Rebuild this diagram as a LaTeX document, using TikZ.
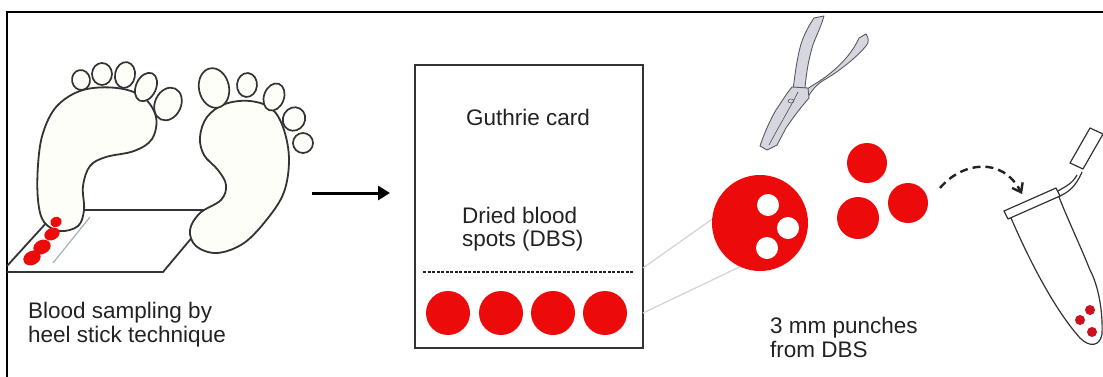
\documentclass[tikz,border=0pt]{standalone}
\usepackage{fontspec}
\setmainfont{Liberation Sans}
\usetikzlibrary{arrows.meta}
\definecolor{ink}{HTML}{222222}
\definecolor{outline}{HTML}{333333}
\definecolor{blood}{HTML}{EC0A0A}
\definecolor{darkblood}{HTML}{CC1020}
\definecolor{footfill}{HTML}{FEFEF9}
\definecolor{steel}{HTML}{D6D7DE}
\definecolor{steeldark}{HTML}{5A5A66}
\definecolor{guide}{HTML}{D2D2D2}
\definecolor{lancet}{HTML}{9DB3BD}
\begin{document}
\begin{tikzpicture}[x=1pt,y=-1pt,
  lbl/.style={font=\fontsize{22.5}{24}\selectfont, text=ink, inner sep=0pt},
  footline/.style={draw=outline, line width=1.8pt, fill=footfill},
  toe/.style={draw=outline, line width=1.7pt, fill=footfill},
  spot/.style={circle, fill=blood, inner sep=0pt, minimum size=#1},
  hole/.style={circle, fill=white, inner sep=0pt, minimum size=22pt},
  tubeline/.style={draw=outline, line width=1.2pt, line join=round},
  guideline/.style={draw=guide, line width=1.2pt},
  steelpart/.style={fill=steel, draw=steeldark, line width=0.9pt, line join=round}]
\useasboundingbox (0,0) rectangle (1103,376);

% frame
\draw[line width=2.2pt, line cap=rect] (7,376) -- (7,12) -- (1103,12);

% ---------- heel stick ----------
% platform
\draw[outline, line width=1.8pt, line join=round]
  (7,272) -- (163,272) -- (215,210) -- (58,210) -- (7,266);
% lancet line
\draw[lancet, line width=1.2pt] (90,217) -- (53,263);

% left foot
\path[footline] plot[smooth cycle, tension=0.6] coordinates
  {(83,90) (117,88) (143,97) (156,117) (152,139) (134,151) (106,157)
   (90,166) (83,186) (84,210) (78,226) (60,231) (44,222) (38,200)
   (38,165) (43,133) (57,106)};
\foreach \cx/\cy/\rx/\ry/\ang in {81/80/9/10/10, 102/74/10/11/0, 125/75/10/13/-10,
    146/87/10/15/-25, 168/104/13/17/-25}
  \path[toe, rotate around={\ang:(\cx,\cy)}]
    (\cx,\cy) ellipse [x radius=\rx, y radius=\ry];

% right foot
\path[footline] plot[smooth cycle, tension=0.6] coordinates
  {(250,101) (272,109) (284,130) (289,160) (284,192) (268,218) (244,243)
   (217,253) (196,246) (190,230) (200,213) (221,200) (226,185) (218,170)
   (204,155) (200,137) (207,117) (225,104)};
\foreach \cx/\cy/\rx/\ry/\ang in {214/88/15/20/12, 247/85/10/12/-5, 274/97/10/14/-20,
    294/119/11/12/-30, 303/143/10/10/0}
  \path[toe, rotate around={\ang:(\cx,\cy)}]
    (\cx,\cy) ellipse [x radius=\rx, y radius=\ry];

% blood drops on the heel
\foreach \cx/\cy/\rx/\ry in {56/222/6/5, 52/234/8/6, 42/247/9/7, 32/258/9/7}
  \fill[blood, rotate around={25:(\cx,\cy)}] (\cx,\cy) ellipse [x radius=\rx, y radius=\ry];

\node[lbl, anchor=base west] (heelA) at (28,318) {Blood sampling by};
\node[lbl, anchor=base west] (heelB) at (28,342) {heel stick technique};

% arrow to card
\coordinate (arrS) at (312,193);
\coordinate (arrE) at (390,193);
\draw[line width=3pt, -{Triangle[length=12pt,width=14pt]}] (arrS) -- (arrE);

% ---------- Guthrie card ----------
\draw[outline, line width=2.2pt] (415,65) rectangle (643,348);
\node[lbl, anchor=base] (cardtitle) at (528,125) {Guthrie card};
\node[lbl, anchor=base west] (dbsA) at (462,223) {Dried blood};
\node[lbl, anchor=base west] (dbsB) at (462,246) {spots (DBS)};
\draw[ink, line width=1.6pt, dash pattern=on 3pt off 1.5pt] (423,272) -- (633,272);
\foreach \i/\x in {1/448, 2/501, 3/553, 4/605}
  \node[spot=44pt] (s\i) at (\x,313) {};

% guide lines to the enlarged spot
\coordinate (gA) at (643,268);
\coordinate (gB) at (643,313);
\coordinate (bA) at (725,210);
\coordinate (bB) at (750,262);
\draw[guideline] (gA) -- (bA);
\draw[guideline] (gB) -- (bB);

% enlarged spot with punched holes
\node[spot=96pt] (big) at (760,223) {};
\node[hole] (h1) at (768,205) {};
\node[hole] (h2) at (788,228) {};
\node[hole] (h3) at (767,248) {};

% punches
\node[spot=40pt] (p1) at (867,163) {};
\node[spot=42pt] (p2) at (858,218) {};
\node[spot=40pt] (p3) at (908,203) {};

\node[lbl, anchor=base west] (punchA) at (770,333) {3 mm punches};
\node[lbl, anchor=base west] (punchB) at (770,357) {from DBS};

% ---------- hole punch pliers ----------
% upper handle
\path[steelpart] (814,18) -- (824,16) .. controls (820,30) and (814,40) .. (812,48)
  .. controls (808,62) and (806,76) .. (805,88) -- (793,90)
  .. controls (795,74) and (797,58) .. (801,44) .. controls (805,32) and (810,24) .. (814,18) -- cycle;
% lower handle
\path[steelpart] (859,38) -- (866,34) .. controls (869,38) and (869,43) .. (866,46)
  .. controls (856,58) and (838,72) .. (824,80) .. controls (816,85) and (812,90) .. (808,97)
  -- (800,96) .. controls (806,88) and (816,84) .. (824,78)
  .. controls (838,68) and (852,54) .. (859,38) -- cycle;
% jaw and punch head
\path[steelpart] (792,87) -- (808,88) -- (809,98) .. controls (802,106) and (794,116) .. (786,128)
  -- (777,145) -- (767,150) -- (760,146) .. controls (764,134) and (770,120) .. (776,110)
  .. controls (782,101) and (787,93) .. (792,87) -- cycle;
\draw[steeldark, line width=0.7pt] (798,92) .. controls (790,108) and (779,126) .. (769,145);
\draw[steeldark, line width=0.6pt] (791,101) ellipse [x radius=3, y radius=2];

% transfer arrow
\coordinate (trS) at (940,188);
\coordinate (trE) at (1022,194);
\draw[ink, line width=2.4pt, dash pattern=on 8pt off 5pt,
  -{Straight Barb[length=8pt,width=12pt]}]
  (trS) .. controls (962,162) and (1002,156) .. (trE);

% ---------- tube ----------
\path[tubeline, fill=white] (1011,218) .. controls (1030,262) and (1055,310) .. (1080,338)
  .. controls (1090,348) and (1100,346) .. (1102,334)
  .. controls (1103,310) and (1098,285) .. (1090,270)
  .. controls (1080,245) and (1068,220) .. (1059,197);
\path[tubeline, fill=white] (1004,211) -- (1056,188) -- (1060,196) -- (1008,219) -- cycle;
\draw[tubeline] (1058,191) .. controls (1066,186) and (1072,184) .. (1077,175);
\draw[tubeline] (1060,196) .. controls (1068,192) and (1075,188) .. (1082,172);
\path[tubeline, fill=white] (1070,163) -- (1090,128) -- (1103,134) -- (1083,169) -- cycle;
\foreach \i/\cx/\cy in {1/1090/310, 2/1080/320, 3/1092/332}
  \fill[darkblood] (\cx,\cy) circle (5);
\end{tikzpicture}
\end{document}
